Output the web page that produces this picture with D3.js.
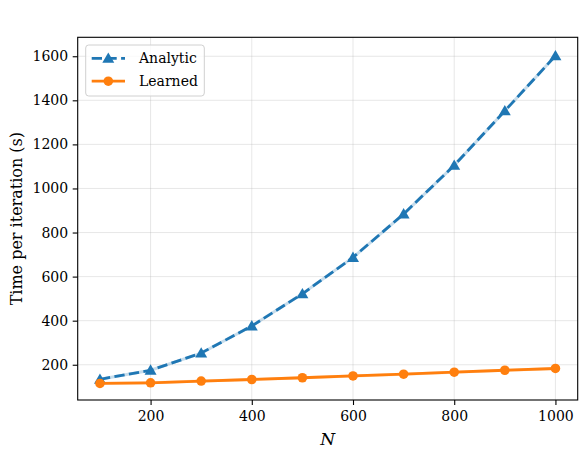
<!DOCTYPE html>
<html>
<head>
<meta charset="utf-8">
<script src="https://cdn.jsdelivr.net/npm/d3@7"></script>
<style>
  body { margin: 0; background: #fff; }
  text { font-family: "DejaVu Serif"; }
</style>
</head>
<body>
<div id="chart"></div>
<script>
const sizes = [100, 200, 300, 400, 500, 600, 700, 800, 900, 1000]
const analytic = [134, 175, 253, 376, 522, 687, 884, 1105, 1352, 1602]
const learned = [115, 118, 126, 133, 141, 149, 157, 166, 175, 183]
const xTicks = [200, 400, 600, 800, 1000]
const yTicks = [200, 400, 600, 800, 1000, 1200, 1400, 1600]

const width = 585
const height = 451
const margin = { top: 37.3, right: 7.3, bottom: 51, left: 77.7 }
const fontSize = 14

const svg = d3.select('#chart')
  .append('svg')
  .attr('width', width)
  .attr('height', height)

const x = d3.scaleLinear()
  .domain([56, 1044])
  .range([margin.left, width - margin.right])

const y = d3.scaleLinear()
  .domain([40, 1686])
  .range([height - margin.bottom, margin.top])

// grid
const grid = svg.append('g').attr('stroke', '#b0b0b0').attr('stroke-opacity', 0.3).attr('stroke-width', 1)
grid.selectAll('.gx').data(xTicks).enter().append('line')
  .attr('x1', d => x(d)).attr('x2', d => x(d))
  .attr('y1', y.range()[0]).attr('y2', y.range()[1])
grid.selectAll('.gy').data(yTicks).enter().append('line')
  .attr('y1', d => y(d)).attr('y2', d => y(d))
  .attr('x1', x.range()[0]).attr('x2', x.range()[1])

// axes
const xAxis = svg.append('g')
  .attr('transform', `translate(0,${height - margin.bottom})`)
  .call(d3.axisBottom(x).tickValues(xTicks).tickSize(5).tickPadding(6).tickFormat(d3.format('d')))
const yAxis = svg.append('g')
  .attr('transform', `translate(${margin.left},0)`)
  .call(d3.axisLeft(y).tickValues(yTicks).tickSize(5).tickPadding(4.5).tickFormat(d3.format('d')))
;[xAxis, yAxis].forEach(a => {
  a.attr('font-family', null)
  a.select('.domain').remove()
  a.selectAll('text').attr('font-size', fontSize).attr('fill', '#000')
  a.selectAll('line').attr('stroke', '#000').attr('stroke-width', 1.1)
})

const line = d3.line()
  .x((d, i) => x(sizes[i]))
  .y(d => y(d))

const series = [
  { name: 'Analytic', values: analytic, color: '#1f77b4', dash: '10.3,4.4', marker: 'triangle' },
  { name: 'Learned', values: learned, color: '#ff7f0e', dash: null, marker: 'circle' }
]

const markerPath = (type) => type === 'triangle'
  ? d3.symbol().type(d3.symbolTriangle).size(62)()
  : d3.symbol().type(d3.symbolCircle).size(72)()

series.forEach(s => {
  // faint band under the line
  svg.append('path')
    .attr('d', line(s.values))
    .attr('fill', 'none')
    .attr('stroke', s.color)
    .attr('stroke-opacity', 0.25)
    .attr('stroke-width', 3)
  svg.append('path')
    .attr('d', line(s.values))
    .attr('fill', 'none')
    .attr('stroke', s.color)
    .attr('stroke-width', 2.78)
    .attr('stroke-dasharray', s.dash)
  svg.append('g').selectAll('path')
    .data(s.values)
    .enter()
    .append('path')
    .attr('d', markerPath(s.marker))
    .attr('transform', (d, i) => `translate(${x(sizes[i])},${y(d) + (s.marker === 'triangle' ? 1 : 0)})`)
    .attr('fill', s.color)
})

// frame
svg.append('rect')
  .attr('x', margin.left).attr('y', margin.top)
  .attr('width', width - margin.left - margin.right)
  .attr('height', height - margin.top - margin.bottom)
  .attr('fill', 'none').attr('stroke', '#000').attr('stroke-width', 1.1)

// legend
const legend = svg.append('g')
legend.append('rect')
  .attr('x', 85.7).attr('y', 45).attr('width', 118.6).attr('height', 51)
  .attr('rx', 3).attr('fill', '#fff').attr('fill-opacity', 0.8)
  .attr('stroke', '#d0d0d0').attr('stroke-width', 1)
series.forEach((s, i) => {
  const cy = 58.3 + i * 22.9
  legend.append('line')
    .attr('x1', 91.7).attr('x2', 125).attr('y1', cy).attr('y2', cy)
    .attr('stroke', s.color).attr('stroke-width', 2.78)
    .attr('stroke-dasharray', s.dash)
  legend.append('path')
    .attr('d', markerPath(s.marker))
    .attr('transform', `translate(108.3,${cy + (s.marker === 'triangle' ? 1 : 0)})`)
    .attr('fill', s.color)
  legend.append('text')
    .attr('x', 139).attr('y', cy + 5)
    .attr('font-size', fontSize)
    .text(s.name)
})

// labels
svg.append('text')
  .attr('x', (margin.left + width - margin.right) / 2)
  .attr('y', 445)
  .attr('text-anchor', 'middle')
  .attr('font-size', fontSize + 3)
  .attr('font-style', 'italic')
  .text('N')

svg.append('text')
  .attr('transform', `translate(22,${(margin.top + height - margin.bottom) / 2}) rotate(-90)`)
  .attr('text-anchor', 'middle')
  .attr('font-size', 16)
  .text('Time per iteration (s)')
</script>
</body>
</html>
